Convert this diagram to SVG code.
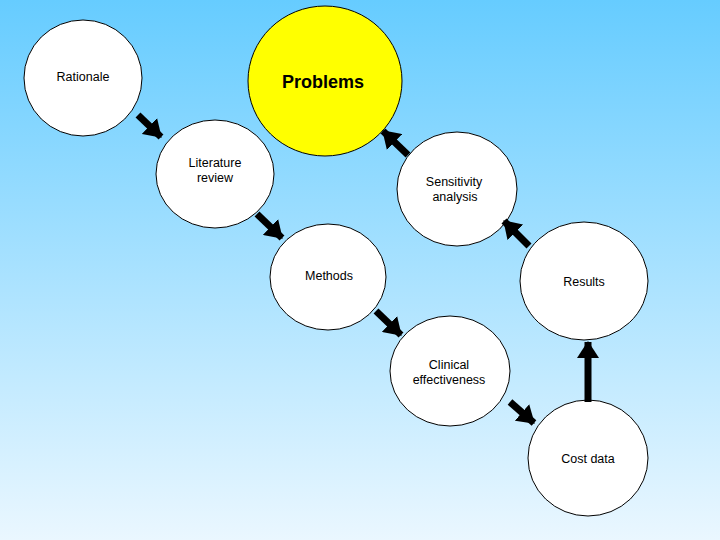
<svg xmlns="http://www.w3.org/2000/svg" width="720" height="540" viewBox="0 0 720 540">
<defs>
<linearGradient id="bg" x1="0" y1="0" x2="0" y2="1">
<stop offset="0" stop-color="#66CCFF"/>
<stop offset="1" stop-color="#EAF7FF"/>
</linearGradient>
<marker id="ah" markerUnits="userSpaceOnUse" markerWidth="18" markerHeight="22" refX="16" refY="11" orient="auto">
<path d="M0,0 L17,11 L0,22 z" fill="#000"/>
</marker>
<style>
.n ellipse{fill:#fff;stroke:#000;stroke-width:1}
.t{font-family:"Liberation Sans",Arial,sans-serif;font-size:12.5px;fill:#000;text-anchor:middle}
.c line{stroke:#000;stroke-width:7;marker-end:url(#ah)}
</style>
</defs>
<rect width="720" height="540" fill="url(#bg)"/>
<g id="problems" class="n"><ellipse cx="325" cy="81" rx="77" ry="75" style="fill:#FFFF00"/><text class="t" x="323" y="88" style="font-size:18px;font-weight:bold">Problems</text></g>
<g id="rationale" class="n"><ellipse cx="83" cy="78" rx="59" ry="58"/><text class="t" x="83" y="81">Rationale</text></g>
<g id="literature" class="n"><ellipse cx="215" cy="174" rx="59" ry="54"/><text class="t" x="215" y="167">Literature</text><text class="t" x="215" y="182">review</text></g>
<g id="sensitivity" class="n"><ellipse cx="457" cy="189" rx="60" ry="57"/><text class="t" x="454" y="186">Sensitivity</text><text class="t" x="455" y="201">analysis</text></g>
<g id="methods" class="n"><ellipse cx="328" cy="277" rx="58" ry="53"/><text class="t" x="329" y="280">Methods</text></g>
<g id="results" class="n"><ellipse cx="584" cy="281" rx="64" ry="59"/><text class="t" x="584" y="286">Results</text></g>
<g id="clinical" class="n"><ellipse cx="450" cy="371" rx="60" ry="55"/><text class="t" x="449" y="369">Clinical</text><text class="t" x="449" y="384">effectiveness</text></g>
<g id="cost" class="n"><ellipse cx="588" cy="458" rx="60" ry="58"/><text class="t" x="588" y="463">Cost data</text></g>
<g id="connectors" class="c">
<line x1="138" y1="115" x2="161" y2="137"/>
<line x1="257" y1="214" x2="282" y2="238"/>
<line x1="376" y1="311" x2="401" y2="335"/>
<line x1="510" y1="402" x2="534" y2="423"/>
<line x1="588" y1="402" x2="588" y2="342"/>
<line x1="529" y1="246" x2="504" y2="221"/>
<line x1="408" y1="155" x2="383" y2="131"/>
</g>
</svg>
